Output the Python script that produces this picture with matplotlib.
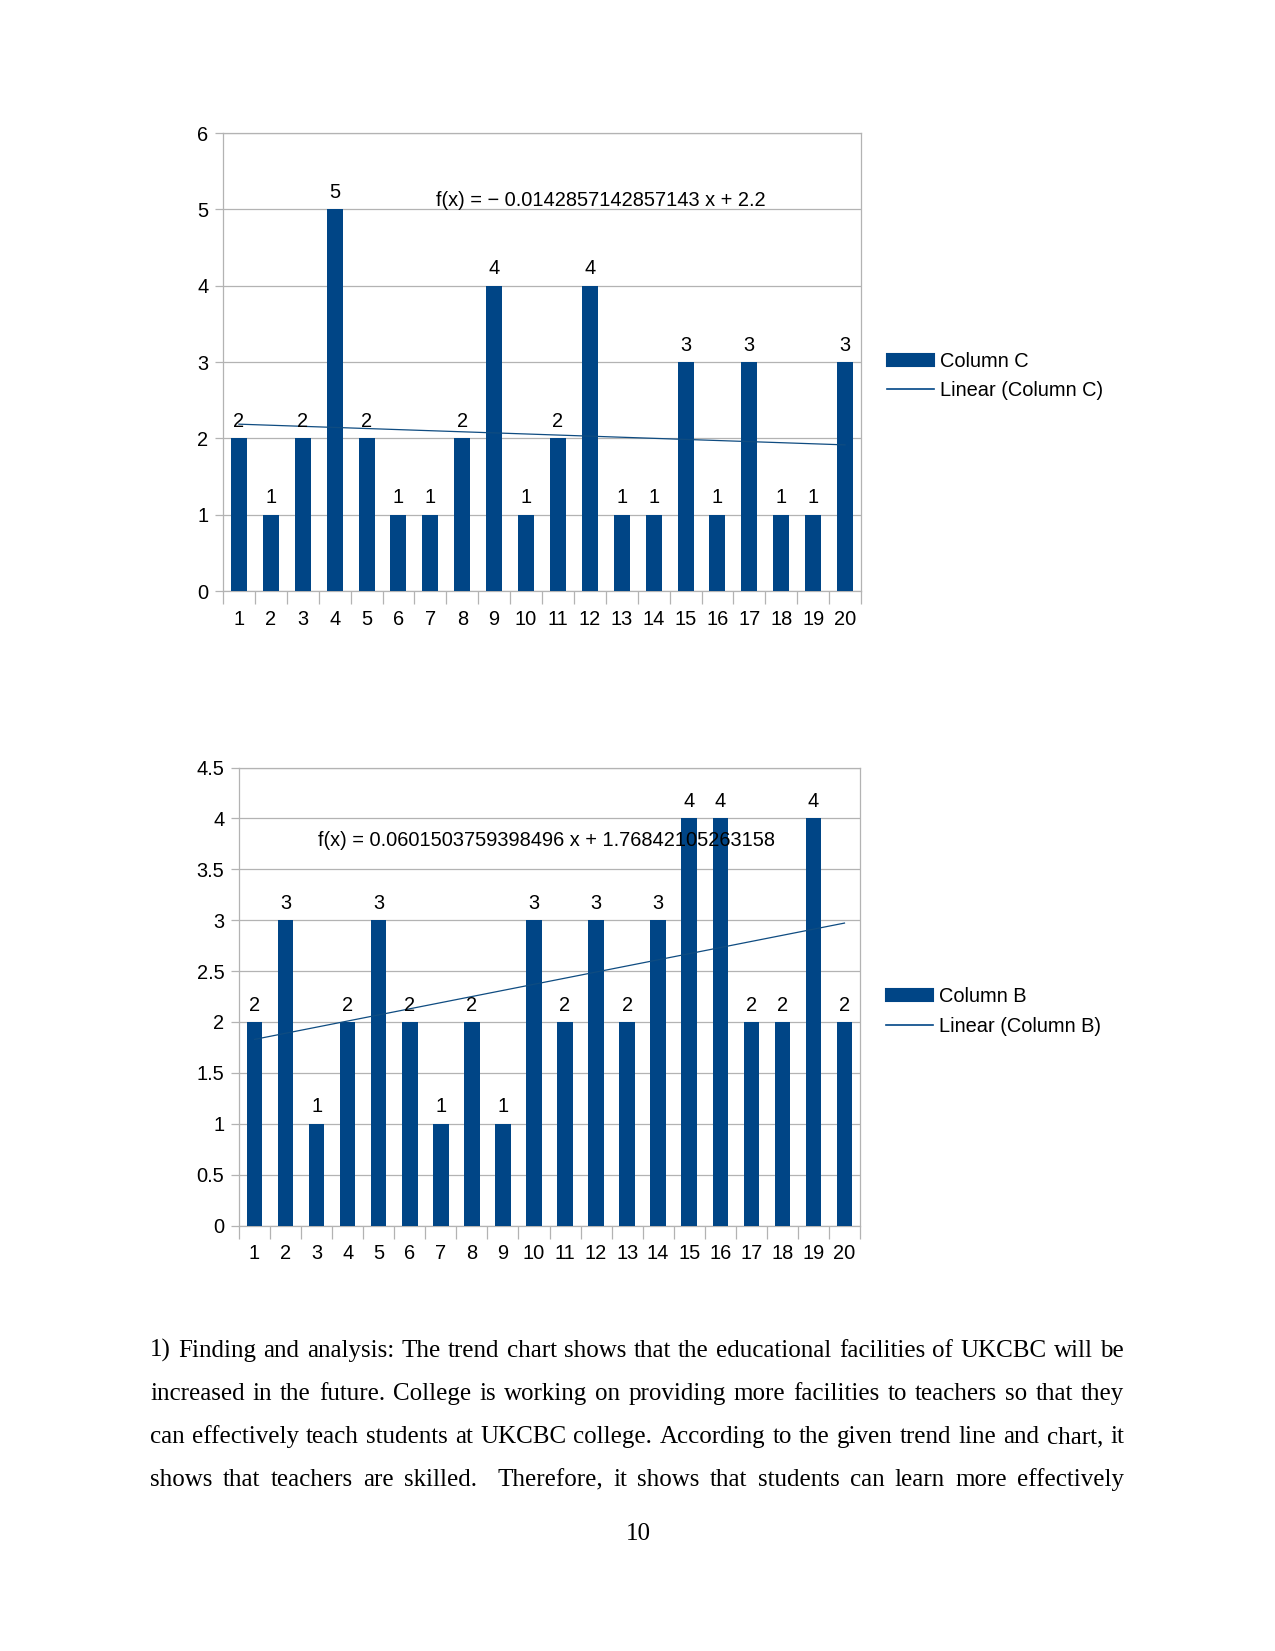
import numpy as np
import matplotlib
matplotlib.use('Agg')
import matplotlib.pyplot as plt
from matplotlib.patches import Patch
from matplotlib.lines import Line2D

# ---------------- data ----------------
categories = [str(i) for i in range(1, 21)]
column_c = [2, 1, 2, 5, 2, 1, 1, 2, 4, 1, 2, 4, 1, 1, 3, 1, 3, 1, 1, 3]
column_b = [2, 3, 1, 2, 3, 2, 1, 2, 1, 3, 2, 3, 2, 3, 4, 4, 2, 2, 4, 2]
yticks_c = [0, 1, 2, 3, 4, 5, 6]
ylabels_c = ['0', '1', '2', '3', '4', '5', '6']
yticks_b = [0, 0.5, 1, 1.5, 2, 2.5, 3, 3.5, 4, 4.5]
ylabels_b = ['0', '0.5', '1', '1.5', '2', '2.5', '3', '3.5', '4', '4.5']
eq_c = "f(x) = \u2212 0.0142857142857143 x + 2.2"
eq_b = "f(x) = 0.0601503759398496 x + 1.76842105263158"
paragraph_lines = [
    "1) Finding and analysis: The trend chart shows that the educational facilities of UKCBC will be",
    "increased in the future. College is working on providing more facilities to teachers so that they",
    "can effectively teach students at UKCBC college. According to the given trend line and chart, it",
    "shows that teachers are skilled.  Therefore, it shows that students can learn more effectively",
]
page_number = "10"

BAR = '#004586'
GRID = '#b3b3b3'
FS = 9.6

W, H = 1275, 1651
plt.rcParams['font.family'] = ['Liberation Sans', 'DejaVu Sans']
fig = plt.figure(figsize=(W / 150, H / 150), dpi=150)


def px_rect(l, t, r, b):
    return [l / W, 1 - b / H, (r - l) / W, (b - t) / H]


def draw_chart(rect, values, yticks, ylabels, eq, eq_px, name, legend_px):
    ax = fig.add_axes(rect)
    x = np.arange(1, len(values) + 1)
    ax.bar(x, values, width=0.5, color=BAR, zorder=3)
    slope, inter = np.polyfit(x, values, 1)
    xs = np.array([x[0], x[-1]])
    ax.plot(xs, slope * xs + inter, color='#0f4c81', lw=0.6, zorder=4)
    for xi, v in zip(x, values):
        ax.annotate(str(v), (xi, v), xytext=(0, 3.5), textcoords='offset points',
                    ha='center', va='bottom', fontsize=FS, color='black', zorder=5)
    ax.set_xlim(0.5, len(values) + 0.5)
    ax.set_ylim(yticks[0], yticks[-1])
    ax.set_yticks(yticks)
    ax.set_yticklabels(ylabels)
    ax.set_xticks(x)
    ax.set_xticklabels(categories)
    ax.set_xticks(np.arange(0.5, len(values) + 1, 1.0), minor=True)
    ax.tick_params(axis='x', which='major', length=0, pad=9, labelsize=FS)
    ax.tick_params(axis='x', which='minor', length=6, width=0.6, color=GRID)
    ax.tick_params(axis='y', length=4, width=0.6, color=GRID, pad=3, labelsize=FS)
    ax.grid(axis='y', color=GRID, lw=0.6, zorder=0)
    for s in ax.spines.values():
        s.set_color(GRID)
        s.set_linewidth(0.6)
    ax.text(eq_px[0] / W, 1 - eq_px[1] / H, eq, transform=fig.transFigure,
            ha='center', va='center', fontsize=FS, zorder=6)
    handles = [Patch(facecolor=BAR, edgecolor=BAR, label=name),
               Line2D([], [], color=BAR, lw=0.8, label='Linear (%s)' % name)]
    ax.legend(handles=handles, loc='center left',
              bbox_to_anchor=(legend_px[0] / W, 1 - legend_px[1] / H),
              bbox_transform=fig.transFigure, frameon=False, fontsize=FS,
              handlelength=2.35, handleheight=0.55, handletextpad=0.3,
              labelspacing=0.5, borderaxespad=0, borderpad=0)
    return ax


draw_chart(px_rect(223, 133, 861, 591), column_c, yticks_c, ylabels_c,
           eq_c, (601, 201), 'Column C', (887, 376))
draw_chart(px_rect(239, 767.5, 860, 1225.5), column_b, yticks_b, ylabels_b,
           eq_b, (546, 841), 'Column B', (886, 1011.5))

# ---------------- justified paragraph ----------------
renderer = fig.canvas.get_renderer()
serif = dict(family=['Liberation Serif', 'DejaVu Serif'], size=12)
left, right = 150, 1124
baselines = [1357, 1400, 1443, 1486]


def width_px(s):
    t = fig.text(0, 0, s, fontdict=serif)
    w = t.get_window_extent(renderer).width
    t.remove()
    return w


for line, yb in zip(paragraph_lines, baselines):
    tokens = line.split(' ')
    widths = [width_px(t) if t else 0.0 for t in tokens]
    gap = (right - left - sum(widths)) / (len(tokens) - 1)
    xpos = left
    for tok, w in zip(tokens, widths):
        if tok:
            fig.text(xpos / W, 1 - yb / H, tok, fontdict=serif,
                     ha='left', va='baseline')
        xpos += w + gap

fig.text(638 / W, 1 - 1540 / H, page_number, fontdict=serif,
         ha='center', va='baseline')

fig.savefig('out.png', dpi=150)
